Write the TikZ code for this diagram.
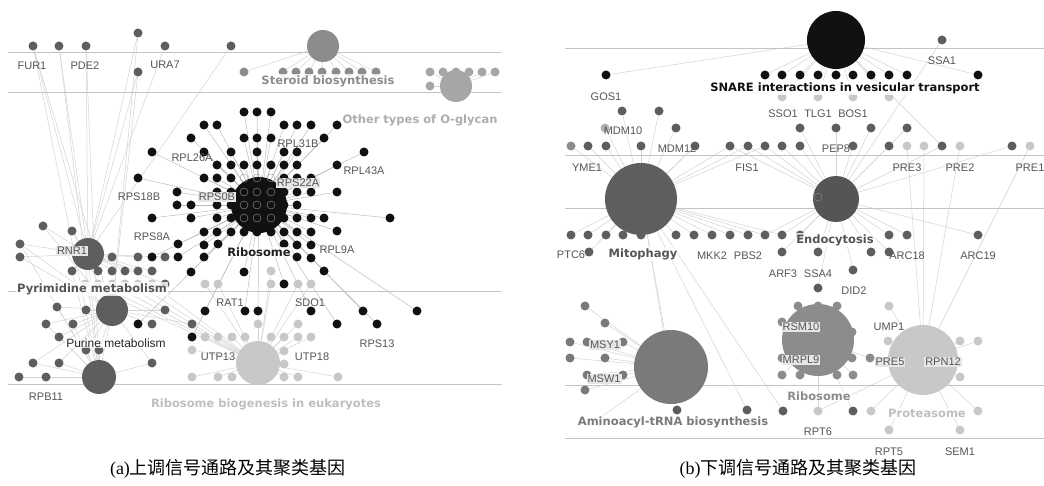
\documentclass[tikz,border=0pt]{standalone}
\usepackage{fontspec}
\setmainfont{Liberation Serif}
\newfontfamily\genefont{Liberation Sans}
\newfontfamily\pwfont{DejaVu Sans}
\newfontfamily\cjk{Noto Sans CJK SC}
\definecolor{cblk}{HTML}{111111}
\definecolor{cdk}{HTML}{5E5E5E}
\definecolor{cmd}{HTML}{8C8C8C}
\definecolor{cog}{HTML}{A6A6A6}
\definecolor{clt}{HTML}{C8C8C8}
\definecolor{caa}{HTML}{7A7A7A}
\definecolor{cedge}{HTML}{D2D2D2}
\definecolor{csep}{HTML}{C4C4C4}
\definecolor{ctxt}{HTML}{555555}
\definecolor{cbox}{HTML}{E6E6E6}
\pgfdeclarelayer{edges}
\pgfsetlayers{edges,main}
\begin{document}
\begin{tikzpicture}[x=1pt,y=-1pt,
  dot/.style={circle,inner sep=0pt,minimum size=9pt},
  kb/.style={dot,fill=cblk},
  kd/.style={dot,fill=cdk},
  km/.style={dot,fill=cmd},
  kl/.style={dot,fill=clt},
  ka/.style={dot,fill=caa},
  ko/.style={dot,fill=cog},
  hub/.style={circle,inner sep=0pt,minimum size=#1},
  hol/.style={circle,draw=white!60!black,line width=0.4pt,inner sep=0pt,minimum size=8pt},
  edge/.style={draw=cedge,line width=0.5pt},
  sepline/.style={draw=csep,line width=0.8pt},
  gene/.style={font=\genefont\fontsize{11}{12}\selectfont,text=ctxt,inner sep=1pt},
  gbox/.style={gene,fill=cbox},
  pw/.style={font=\pwfont\bfseries\fontsize{11.5}{13}\selectfont,inner sep=1pt,fill=white,fill opacity=0.8,text opacity=1},
  captxt/.style={font=\fontsize{18}{21}\selectfont,text=black}
]
\useasboundingbox (0,0) rectangle (1044,486);

% ---------------- separators
\foreach \yy in {52,92,291,384} \draw[sepline] (8,\yy) -- (502,\yy);
\foreach \yy in {48,155,208,385,438} \draw[sepline] (565,\yy) -- (1044,\yy);

% ================= PANEL (a) hubs
\node[hub=56pt,fill=cblk] (RA) at (259,205) {};
\foreach \hx/\hy in {244/178,257/178,271/178,244/192,257/192,271/192,244/205,257/205,271/205,244/218,257/218,271/218}
  \node[hol] at (\hx,\hy) {};
\node[hub=32pt,fill=cdk] (PY) at (88,254) {};
\node[hub=32pt,fill=cdk] (PU) at (112,310) {};
\node[hub=34pt,fill=cdk] (RB) at (99,377) {};
\node[hub=44pt,fill=clt] (BG) at (258,363) {};
\node[hub=32pt,fill=cmd] (ST) at (323,46) {};

% ribosome genes
\foreach \x/\y [count=\i] in {244/112,257/112,271/112,
 204/125,217/125,284/125,297/125,311/125,337/125,
 191/138,244/138,257/138,271/138,324/138,
 152/152,204/152,231/152,257/152,284/152,297/152,364/152,
 217/165,231/165,244/165,257/165,271/165,284/165,297/165,337/165,
 138/178,204/178,217/178,231/178,284/178,297/178,311/178,
 177/192,217/192,231/192,284/192,297/192,311/192,337/192,
 177/205,191/205,217/205,231/205,284/205,297/205,
 152/218,191/218,217/218,231/218,284/218,297/218,311/218,324/218,390/218,
 204/232,217/232,231/232,244/232,257/232,271/232,284/232,297/232,311/232,337/231,
 178/244,204/245,218/244,284/244,297/245,311/245,
 152/257,178/257,204/257,297/257,311/258,
 191/272,244/272,324/271,
 284/284,205/311,245/311,258/311,311/311,363/311,417/311,337/324,377/324,138/324,192/337}{
  \node[kb] (ra\i) at (\x,\y) {}; \xdef\nra{\i}}
% pyrimidine genes
\foreach \x/\y [count=\i] in {43/226,72/231,20/244,20/257,72/271,98/271,112/271,125/271,138/271,152/271,
 112/257,138/257,165/257,165/284,33/46,59/46,86/46,138/33,165/46,231/46,138/72}{
  \node[kd] (py\i) at (\x,\y) {}; \xdef\npy{\i}}
% purine genes
\foreach \x/\y [count=\i] in {57/307,86/310,165/310,46/324,73/324,152/324,192/324,59/337,86/350,99/350,152/363}{
  \node[kd] (pu\i) at (\x,\y) {}; \xdef\npu{\i}}
\foreach \x/\y [count=\i] in {33/363,59/363,19/377,46/377}{
  \node[kd] (rb\i) at (\x,\y) {}; \xdef\nrb{\i}}
% ribosome biogenesis genes
\foreach \x/\y [count=\i] in {85/284,98/284,112/284,125/284,138/284,152/284,205/284,218/284,271/271,271/284,298/284,311/284,
 258/324,298/324,205/337,218/337,232/337,245/337,271/337,284/337,298/337,311/337,192/350,284/351,284/364,
 192/377,218/377,232/377,284/377,298/377,338/377}{
  \node[kl] (bg\i) at (\x,\y) {}; \xdef\nbg{\i}}
% steroid
\foreach \x/\y [count=\i] in {283/72,296/72,309/72,322/72,336/72,349/72,362/72,376/72,244/72}{
  \node[km] (st\i) at (\x,\y) {}; \xdef\nst{\i}}
% O-glycan
\foreach \x/\y [count=\i] in {430/72,443/72,456/72,469/72,482/72,495/72,430/86}{
  \node[ko] (og\i) at (\x,\y) {}; \xdef\nog{\i}}
\node[hub=32pt,fill=cog] (OG) at (456,86) {};

% ================= PANEL (b) hubs
\node[hub=58pt,fill=cblk] (SN) at (836,40) {};
\node[hub=72pt,fill=cdk] (MI) at (641,199) {};
\node[hub=46pt,fill=cdk!90!black] (EN) at (836,199) {};
\node[hol,draw=white!55!black] at (818,197) {};
\node[hub=72pt,fill=cmd] (RI) at (818,340) {};
\node[hub=70pt,fill=clt] (PR) at (923,360) {};
\node[hub=74pt,fill=caa] (AA) at (671,367) {};

% SNARE
\foreach \x/\y [count=\i] in {765/75,782/75,800/75,818/75,836/75,853/75,871/75,889/75,907/75,606/75,978/75}{
  \node[kb] (sn\i) at (\x,\y) {}; \xdef\nsn{\i}}
\foreach \x/\y [count=\i] in {782/97,818/97,853/97,889/97}{
  \node[kl] (sl\i) at (\x,\y) {}; \xdef\nsl{\i}}
% Mitophagy
\foreach \x/\y [count=\i] in {622/111,659/111,676/128,588/146,606/146,641/146,695/146,
 571/235,588/235,606/235,623/235,641/235,589/252,676/235,694/235,712/235,730/235,748/235}{
  \node[kd] (mi\i) at (\x,\y) {}; \xdef\nmi{\i}}
\node[dot,fill=cmd] (mx1) at (571,146) {};
\node[dot,fill=white!70!black] (mx2) at (605,128) {};
% Endocytosis
\foreach \x/\y [count=\i] in {730/146,748/146,765/146,782/146,800/146,800/128,836/128,871/128,907/128,
 853/146,889/146,942/146,1012/146,765/235,782/235,800/235,889/235,907/235,978/235,
 782/252,818/252,871/252,889/252,853/270,818/288,942/40}{
  \node[kd] (en\i) at (\x,\y) {}; \xdef\nen{\i}}
% Ribosome (b)
\foreach \x/\y [count=\i] in {798/306,818/306,837/306,852/332,852/358,782/322,782/358,782/375,800/375,837/375,853/375,870/358}{
  \node[km] (ri\i) at (\x,\y) {}; \xdef\nri{\i}}
\node[kd] (rx1) at (853,411) {};
% Proteasome
\foreach \x/\y [count=\i] in {889/306,888/341,960/341,978/341,960/377,818/411,871/411,978/411,889/430,960/430,
 907/146,924/146,960/146,1030/146}{
  \node[kl] (pr\i) at (\x,\y) {}; \xdef\npr{\i}}
% Aminoacyl-tRNA
\foreach \x/\y [count=\i] in {585/306,605/323,570/342,587/342,623/342,570/358,605/358,587/375,623/375,585/390}{
  \node[ka] (aa\i) at (\x,\y) {}; \xdef\naa{\i}}
\foreach \x/\y [count=\i] in {677/410,747/410,783/411}{
  \node[kd] (am\i) at (\x,\y) {}; \xdef\nam{\i}}
\coordinate (aaend) at (590,425);

% ================= all connectors, behind
\begin{pgfonlayer}{edges}
\foreach \i in {1,...,\nra} \draw[edge,draw=white!74!black] (RA) -- (ra\i);
\foreach \i in {1,...,\npy} \draw[edge] (PY) -- (py\i);
\foreach \i in {1,...,\npu} \draw[edge] (PU) -- (pu\i);
\foreach \i in {1,...,\nrb} \draw[edge] (RB) -- (rb\i);
\foreach \i in {1,...,\nbg} \draw[edge] (BG) -- (bg\i);
\foreach \i in {1,...,\nst} \draw[edge] (ST) -- (st\i);
\foreach \i in {1,...,\nog} \draw[edge] (OG) -- (og\i);
\foreach \n in {pu1,pu4,pu5,pu8,pu9,pu10,pu11,PU,PY,py15,py16,py17,py5,py3}
  \draw[edge] (RB) -- (\n);
\foreach \n in {rb1,rb2,py1,py2,py3,py4,py15,py18,py21}
  \draw[edge] (PU) -- (\n);
\foreach \i in {1,...,\nsn} \draw[edge] (SN) -- (sn\i);
\foreach \i in {1,...,\nsl} \draw[edge] (SN) -- (sl\i);
\foreach \i in {1,...,\nmi} \draw[edge] (MI) -- (mi\i);
\draw[edge] (MI) -- (mx1); \draw[edge] (MI) -- (mx2);
\foreach \i in {1,...,\nen} \draw[edge] (EN) -- (en\i);
\foreach \n in {en1,en2,en3,en14,en15,mi7} \draw[edge] (MI) -- (\n);
\draw[edge] (SN) -- (en12);
\foreach \i in {1,...,\nri} \draw[edge] (RI) -- (ri\i);
\draw[edge] (RI) -- (rx1);
\foreach \i in {1,...,\npr} \draw[edge] (PR) -- (pr\i);
\foreach \i in {1,...,\naa} \draw[edge] (AA) -- (aa\i);
\foreach \i in {1,...,\nam} \draw[edge] (MI) -- (am\i);
\draw[edge] (AA) -- (aaend);
\draw[edge] (MI) -- (AA);
\draw[edge] (RI) -- (pr6);
\end{pgfonlayer}

% labels (a)
\node[gene] (lFUR1) at (32,66) {FUR1};
\node[gene] (lPDE2) at (85,66) {PDE2};
\node[gene] (lURA7) at (165,65) {URA7};
\node[gene] (lRPL26A) at (192,158) {RPL26A};
\node[gene] (lRPL31B) at (298,144) {RPL31B};
\node[gene] (lRPL43A) at (364,171) {RPL43A};
\node[gene] (lRPS18B) at (139,197) {RPS18B};
\node[gbox] (lRPS0B) at (217,197) {RPS0B};
\node[gbox] (lRPS22A) at (298,183) {RPS22A};
\node[gene] (lRPS8A) at (152,237) {RPS8A};
\node[gene] (lRPL9A) at (337,250) {RPL9A};
\node[gbox] (lRNR1) at (72,251) {RNR1};
\node[gene] (lRAT1) at (230,303) {RAT1};
\node[gene] (lSDO1) at (310,303) {SDO1};
\node[gene] (lRPS13) at (377,344) {RPS13};
\node[gene] (lUTP13) at (218,357) {UTP13};
\node[gene] (lUTP18) at (312,357) {UTP18};
\node[gene] (lRPB11) at (46,397) {RPB11};
\node[pw,text=cmd] (pSter) at (328,81) {Steroid biosynthesis};
\node[pw,text=white!68!black,fill opacity=0] (pOgly) at (420,120) {Other types of O-glycan};
\node[pw,text=black!88] (pRibA) at (259,252) {Ribosome};
\node[pw,text=ctxt] (pPyr) at (92,289) {Pyrimidine metabolism};
\node[gene,text=black!85,fill=white,fill opacity=0.75,text opacity=1,font=\genefont\fontsize{12}{13}\selectfont] (pPur) at (116,343) {Purine metabolism};
\node[pw,text=white!75!black] (pRbio) at (266,404) {Ribosome biogenesis in eukaryotes};

% labels (b)
\node[gene] (lGOS1) at (606,97) {GOS1};
\node[gene] (lSSA1) at (942,61) {SSA1};
\node[gene] (lSSO1) at (783,114) {SSO1};
\node[gene] (lTLG1) at (818,114) {TLG1};
\node[gene] (lBOS1) at (853,114) {BOS1};
\node[gene] (lMDM10) at (623,131) {MDM10};
\node[gene] (lMDM12) at (677,149) {MDM12};
\node[gene] (lPEP8) at (836,149) {PEP8};
\node[gene] (lYME1) at (587,168) {YME1};
\node[gene] (lFIS1) at (747,168) {FIS1};
\node[gene] (lPRE3) at (907,168) {PRE3};
\node[gene] (lPRE2) at (960,168) {PRE2};
\node[gene] (lPRE1) at (1030,168) {PRE1};
\node[gene] (lPTC6) at (571,255) {PTC6};
\node[gene] (lMKK2) at (712,256) {MKK2};
\node[gene] (lPBS2) at (748,256) {PBS2};
\node[gene] (lARC18) at (907,256) {ARC18};
\node[gene] (lARC19) at (978,256) {ARC19};
\node[gene] (lARF3) at (783,274) {ARF3};
\node[gene] (lSSA4) at (818,274) {SSA4};
\node[gene] (lDID2) at (854,291) {DID2};
\node[gene] (lUMP1) at (889,327) {UMP1};
\node[gbox] (lRSM10) at (801,327) {RSM10};
\node[gbox] (lMRPL9) at (801,360) {MRPL9};
\node[gbox] (lPRE5) at (890,362) {PRE5};
\node[gbox] (lRPN12) at (943,362) {RPN12};
\node[gbox] (lMSY1) at (605,345) {MSY1};
\node[gbox] (lMSW1) at (604,379) {MSW1};
\node[gene] (lRPT6) at (818,432) {RPT6};
\node[gene] (lRPT5) at (889,452) {RPT5};
\node[gene] (lSEM1) at (960,452) {SEM1};
\node[pw,text=cblk] (pSNARE) at (845,88) {SNARE interactions in vesicular transport};
\node[pw,text=ctxt] (pMito) at (643,254) {Mitophagy};
\node[pw,text=ctxt] (pEndo) at (835,240) {Endocytosis};
\node[pw,text=cmd] (pRibB) at (819,396) {Ribosome};
\node[pw,text=white!75!black] (pProt) at (927,413) {Proteasome};
\node[pw,text=caa] (pAmino) at (673,422) {Aminoacyl-tRNA biosynthesis};

% captions
\node[captxt] (capA) at (228,469) {(a){\cjk 上调信号通路及其聚类基因}};
\node[captxt] (capB) at (798,469) {(b){\cjk 下调信号通路及其聚类基因}};
\end{tikzpicture}
\end{document}
